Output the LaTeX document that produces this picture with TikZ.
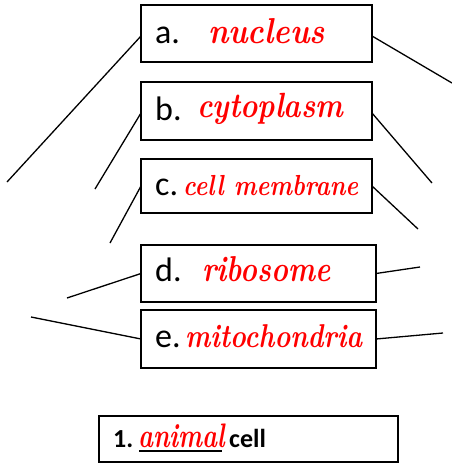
\documentclass[tikz,border=0pt]{standalone}
\usepackage{fontspec}
\usepackage{graphicx}
\newfontfamily\lblfont{Carlito}
\tikzset{
  boxnode/.style={draw=black, line width=1.5pt, rectangle, anchor=north west, inner sep=0pt, outer sep=0pt},
  conn/.style={draw=black, line width=1.3pt},
  lbl/.style={anchor=base west, inner sep=0pt, font=\lblfont\fontsize{34}{34}\selectfont},
  hw/.style={anchor=base west, inner sep=0pt, text=red}
}
\newcommand{\hwtext}[3]{\resizebox{#1pt}{\height}{\fontsize{#2}{#2}\selectfont\rmfamily\bfseries\itshape #3}}
\begin{document}
\begin{tikzpicture}[x=1pt,y=-1pt]
\useasboundingbox (0,0) rectangle (452,464);
% boxes
\node[boxnode, minimum width=231pt, minimum height=57pt] (a) at (141,5) {};
\node[boxnode, minimum width=231pt, minimum height=58pt] (b) at (141,82) {};
\node[boxnode, minimum width=231pt, minimum height=54pt] (c) at (141,159) {};
\node[boxnode, minimum width=235pt, minimum height=57pt] (d) at (141,245) {};
\node[boxnode, minimum width=235pt, minimum height=58pt] (e) at (141,310) {};
\node[boxnode, minimum width=299pt, minimum height=46pt] (f) at (99,416) {};
% labels
\node[lbl] (la) at (155,43) {a.};
\node[lbl] (lb) at (155,120) {b.};
\node[lbl] (lc) at (155,195) {c.};
\node[lbl] (ld) at (155,281) {d.};
\node[lbl] (le) at (155,347) {e.};
\node[hw] (ha) at (208,43) {\hwtext{117}{36}{nucleus}};
\node[hw] (hb) at (197,117) {\hwtext{146}{35}{cytoplasm}};
\node[hw] (hc) at (183,195) {\hwtext{175}{29}{cell membrane}};
\node[hw] (hd) at (202,281) {\hwtext{128}{36}{ribosome}};
\node[hw] (he) at (185,347) {\hwtext{177}{33}{mitochondria}};
% bottom
\node[anchor=base west, inner sep=0pt, font=\lblfont\bfseries\fontsize{26}{26}\selectfont] (n1) at (113,447) {1.};
\node[hw] (an) at (138,447) {\hwtext{87}{34}{animal}};
\node[anchor=base west, inner sep=0pt, font=\lblfont\bfseries\fontsize{26}{26}\selectfont] (cl) at (229,447) {cell};
\coordinate (u1) at (139,451);
\coordinate (u2) at (222,451);
\draw[line width=2pt] (u1) -- (u2);
% free ends
\coordinate (aL) at (7,182);
\coordinate (aR) at (452,83);
\coordinate (bL) at (95,189);
\coordinate (bR) at (432,183);
\coordinate (cL) at (110,243);
\coordinate (cR) at (418,229);
\coordinate (dL) at (67,298);
\coordinate (dR) at (420,267);
\coordinate (eL) at (31,317);
\coordinate (eR) at (443,333);
% connectors
\draw[conn] ([yshift=-2.5pt]a.west) -- (aL);
\draw[conn] ([yshift=-2.5pt]a.east) -- (aR);
\draw[conn] ([yshift=-2pt]b.west) -- (bL);
\draw[conn] ([yshift=-2pt]b.east) -- (bR);
\draw[conn] (c.west) -- (cL);
\draw[conn] (c.east) -- (cR);
\draw[conn] (d.west) -- (dL);
\draw[conn] (d.east) -- (dR);
\draw[conn] (e.west) -- (eL);
\draw[conn] (e.east) -- (eR);
\end{tikzpicture}
\end{document}
